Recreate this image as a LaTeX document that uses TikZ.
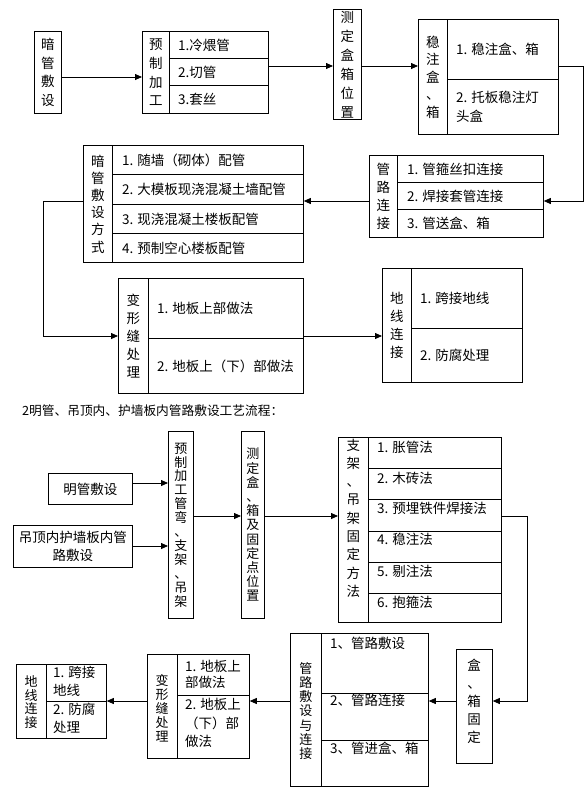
\documentclass[tikz,border=0pt]{standalone}
\usepackage{fontspec}
\setmainfont{Noto Sans CJK SC}
\usetikzlibrary{arrows.meta}
\newcommand\myfs[2]{\fontsize{#1pt}{#2pt}\selectfont}
\begin{document}
\begin{tikzpicture}[x=1pt,y=-1pt,
 cell/.style={draw,line width=0.8pt,inner sep=0pt,anchor=north west},
 arr/.style={-{Triangle[length=7pt,width=6pt]},line width=0.8pt},
 ln/.style={line width=0.8pt},
 txt/.style={inner sep=0pt,anchor=west,align=left,font=\myfs{13.5}{18.5}},
 txtn/.style={inner sep=0pt,anchor=north west,align=left},
 vl/.style={inner sep=0pt,align=center},
]
\useasboundingbox (0,0) rectangle (584,793);
% level coordinates
\coordinate (y66) at (0,66);
\coordinate (y77) at (0,77);
\coordinate (y201) at (0,201);
\coordinate (y336) at (0,336);
\coordinate (y483) at (0,483);
\coordinate (y546) at (0,546);
\coordinate (y516) at (0,516);
\coordinate (y701) at (0,701);

% ---------- top part ----------
\node[cell,minimum width=27pt,minimum height=82pt] (A) at (34,31) {};
\node[vl,font=\myfs{13.5}{18.7}] (At) at (A.center) {暗\\管\\敷\\设};

\node[cell,minimum width=27pt,minimum height=82pt] (B0) at (142,31) {};
\node[vl,font=\myfs{13.5}{18.7}] (B0t) at (B0.center) {预\\制\\加\\工};
\node[cell,minimum width=99pt,minimum height=27pt] (B1) at (169,31) {};
\node[cell,minimum width=99pt,minimum height=27pt] (B2) at (169,58) {};
\node[cell,minimum width=99pt,minimum height=28pt] (B3) at (169,85) {};
\node[txt] (B1t) at ([xshift=9pt]B1.west) {1.冷煨管};
\node[txt] (B2t) at ([xshift=9pt]B2.west) {2.切管};
\node[txt] (B3t) at ([xshift=9pt]B3.west) {3.套丝};

\node[cell,minimum width=28pt,minimum height=110pt] (C) at (333,9) {};
\node[vl,font=\myfs{13.5}{19}] (Ct) at (C.center) {测\\定\\盒\\箱\\位\\置};

\node[cell,minimum width=29pt,minimum height=115pt] (D0) at (418,19) {};
\node[vl,font=\myfs{13.5}{17.5}] (D0t) at (D0.center) {稳\\注\\盒\\、\\箱};
\node[cell,minimum width=111pt,minimum height=60pt] (D1) at (447,19) {};
\node[cell,minimum width=111pt,minimum height=55pt] (D2) at (447,79) {};
\node[txt] (D1t) at ([xshift=9pt]D1.west) {1. 稳注盒、箱};
\node[txt,font=\myfs{13.5}{19}] (D2t) at ([xshift=9pt]D2.west) {2. 托板稳注灯\\头盒};

\node[cell,minimum width=28pt,minimum height=82pt] (E0) at (369,155) {};
\node[vl,font=\myfs{13.5}{17.7}] (E0t) at (E0.center) {管\\路\\连\\接};
\node[cell,minimum width=146pt,minimum height=27pt] (E1) at (397,155) {};
\node[cell,minimum width=146pt,minimum height=27pt] (E2) at (397,182) {};
\node[cell,minimum width=146pt,minimum height=28pt] (E3) at (397,209) {};
\node[txt] (E1t) at ([xshift=10pt]E1.west) {1. 管箍丝扣连接};
\node[txt] (E2t) at ([xshift=10pt]E2.west) {2. 焊接套管连接};
\node[txt] (E3t) at ([xshift=10pt]E3.west) {3. 管送盒、箱};

\node[cell,minimum width=29pt,minimum height=117pt] (F0) at (83,145) {};
\node[vl,font=\myfs{13.5}{17.2}] (F0t) at (F0.center) {暗\\管\\敷\\设\\方\\式};
\node[cell,minimum width=191pt,minimum height=29pt] (F1) at (112,145) {};
\node[cell,minimum width=191pt,minimum height=30pt] (F2) at (112,174) {};
\node[cell,minimum width=191pt,minimum height=29pt] (F3) at (112,204) {};
\node[cell,minimum width=191pt,minimum height=29pt] (F4) at (112,233) {};
\node[txt] (F1t) at ([xshift=10pt]F1.west) {1. 随墙（砌体）配管};
\node[txt] (F2t) at ([xshift=10pt]F2.west) {2. 大模板现浇混凝土墙配管};
\node[txt] (F3t) at ([xshift=10pt]F3.west) {3. 现浇混凝土楼板配管};
\node[txt] (F4t) at ([xshift=10pt]F4.west) {4. 预制空心楼板配管};

\node[cell,minimum width=30pt,minimum height=115pt] (G0) at (118,278) {};
\node[vl,font=\myfs{13.5}{18}] (G0t) at (G0.center) {变\\形\\缝\\处\\理};
\node[cell,minimum width=155pt,minimum height=60pt] (G1) at (148,278) {};
\node[cell,minimum width=155pt,minimum height=55pt] (G2) at (148,338) {};
\node[txt] (G1t) at ([xshift=9pt]G1.west) {1. 地板上部做法};
\node[txt] (G2t) at ([xshift=9pt]G2.west) {2. 地板上（下）部做法};

\node[cell,minimum width=29pt,minimum height=114pt] (H0) at (382,268) {};
\node[vl,font=\myfs{13.5}{18}] (H0t) at (H0.center) {地\\线\\连\\接};
\node[cell,minimum width=111pt,minimum height=60pt] (H1) at (411,268) {};
\node[cell,minimum width=111pt,minimum height=54pt] (H2) at (411,328) {};
\node[txt] (H1t) at ([xshift=9pt]H1.west) {1. 跨接地线};
\node[txt] (H2t) at ([xshift=9pt]H2.west) {2. 防腐处理};

% top connectors
\coordinate (c1) at (583,66);
\coordinate (c2) at (583,201);
\coordinate (c3) at (43,201);
\coordinate (c4) at (43,336);
\draw[arr] (A.east |- y77) -- (B0.west |- y77);
\draw[arr] (B2.east |- y66) -- (C.west |- y66);
\draw[arr] (C.east |- y66) -- (D0.west |- y66);
\draw[arr] (D1.east |- y66) -- (c1) -- (c2) -- (E2.east |- c2);
\draw[arr] (E0.west |- y201) -- (F3.east |- y201);
\draw[arr] (F0.west |- y201) -- (c3) -- (c4) -- (G0.west |- c4);
\draw[arr] (G2.east |- y336) -- (H0.west |- y336);

% heading
\node[inner sep=0pt,anchor=west,font=\myfs{12.7}{15}] (head) at (22,411) {2明管、吊顶内、护墙板内管路敷设工艺流程：};

% ---------- bottom part ----------
\node[cell,minimum width=84pt,minimum height=31pt,font=\myfs{13.5}{18}] (I) at (48,473) {明管敷设};
\node[cell,minimum width=119pt,minimum height=42pt,align=center,font=\myfs{13.5}{18}] (J) at (13,525) {吊顶内护墙板内管\\路敷设};

\node[cell,minimum width=25pt,minimum height=187pt] (K) at (168,431) {};
\node[vl,font=\myfs{13}{13.9}] (Kt) at (K.center) {预\\制\\加\\工\\管\\弯\\、\\支\\架\\、\\吊\\架};
\node[cell,minimum width=23pt,minimum height=187pt] (L) at (241,431) {};
\node[vl,font=\myfs{13}{14.2}] (Lt) at (L.center) {测\\定\\盒\\、\\箱\\及\\固\\定\\点\\位\\置};

\node[cell,minimum width=30pt,minimum height=185pt] (M0) at (338,437) {};
\node[vl,anchor=north,font=\myfs{13.5}{18.3}] (M0t) at ([yshift=-1.5pt]M0.north) {支\\架\\、\\吊\\架\\固\\定\\方\\法};
\node[cell,minimum width=133pt,minimum height=31pt] (M1) at (368,437) {};
\node[cell,minimum width=133pt,minimum height=31pt] (M2) at (368,468) {};
\node[cell,minimum width=133pt,minimum height=32pt] (M3) at (368,499) {};
\node[cell,minimum width=133pt,minimum height=31pt] (M4) at (368,531) {};
\node[cell,minimum width=133pt,minimum height=31pt] (M5) at (368,562) {};
\node[cell,minimum width=133pt,minimum height=29pt] (M6) at (368,593) {};
\node[txt] (M1t) at (377,447) {1. 胀管法};
\node[txt] (M2t) at (377,478) {2. 木砖法};
\node[txt] (M3t) at (377,508) {3. 预埋铁件焊接法};
\node[txt] (M4t) at (377,539) {4. 稳注法};
\node[txt] (M5t) at (377,571) {5. 剔注法};
\node[txt] (M6t) at (377,602) {6. 抱箍法};

\node[cell,minimum width=36pt,minimum height=114pt] (N) at (456,649) {};
\node[vl,font=\myfs{13.5}{18}] (Nt) at (474,701) {盒\\、\\箱\\固\\定};

\node[cell,minimum width=31pt,minimum height=153pt] (O0) at (290,633) {};
\node[vl,font=\myfs{13}{14.2}] (O0t) at ([yshift=-1pt]O0.center) {管\\路\\敷\\设\\与\\连\\接};
\node[cell,minimum width=107pt,minimum height=60pt] (O1) at (321,633) {};
\node[cell,minimum width=107pt,minimum height=47pt] (O2) at (321,693) {};
\node[cell,minimum width=107pt,minimum height=46pt] (O3) at (321,740) {};
\node[txt] (O1t) at (330,643) {1、管路敷设};
\node[txt] (O2t) at (330,700) {2、管路连接};
\node[txt] (O3t) at (330,748) {3、管进盒、箱};

\node[cell,minimum width=30pt,minimum height=104pt] (P0) at (147,654) {};
\node[vl,font=\myfs{13}{14}] (P0t) at (162,708) {变\\形\\缝\\处\\理};
\node[cell,minimum width=72pt,minimum height=41pt] (P1) at (177,654) {};
\node[cell,minimum width=72pt,minimum height=63pt] (P2) at (177,695) {};
\node[txtn,font=\myfs{13.5}{16}] (P1t) at (185,660) {1. 地板上\\部做法};
\node[txtn,font=\myfs{13.5}{18.5}] (P2t) at (185,698) {2. 地板上\\（下）部\\做法};

\node[cell,minimum width=30pt,minimum height=74pt] (Q0) at (16,664) {};
\node[vl,font=\myfs{13}{13.5}] (Q0t) at (31,702) {地\\线\\连\\接};
\node[cell,minimum width=60pt,minimum height=37pt] (Q1) at (46,664) {};
\node[cell,minimum width=60pt,minimum height=37pt] (Q2) at (46,701) {};
\node[txtn,font=\myfs{13.5}{18}] (Q1t) at (53,666) {1. 跨接\\地线};
\node[txtn,font=\myfs{13.5}{18}] (Q2t) at (53,703) {2. 防腐\\处理};

% bottom connectors
\coordinate (d1) at (527,516);
\coordinate (d2) at (527,701);
\draw[arr] (I.east |- y483) -- (K.west |- y483);
\draw[arr] (J.east |- y546) -- (K.west |- y546);
\draw[arr] (K.east |- y516) -- (L.west |- y516);
\draw[arr] (L.east |- y516) -- (M0.west |- y516);
\draw[arr] (M3.east |- y516) -- (d1) -- (d2) -- (N.east |- d2);
\draw[arr] (N.west |- y701) -- (O2.east |- y701);
\draw[arr] (O0.west |- y701) -- (P2.east |- y701);
\draw[arr] (P0.west |- y701) -- (Q2.east |- y701);
\end{tikzpicture}
\end{document}
